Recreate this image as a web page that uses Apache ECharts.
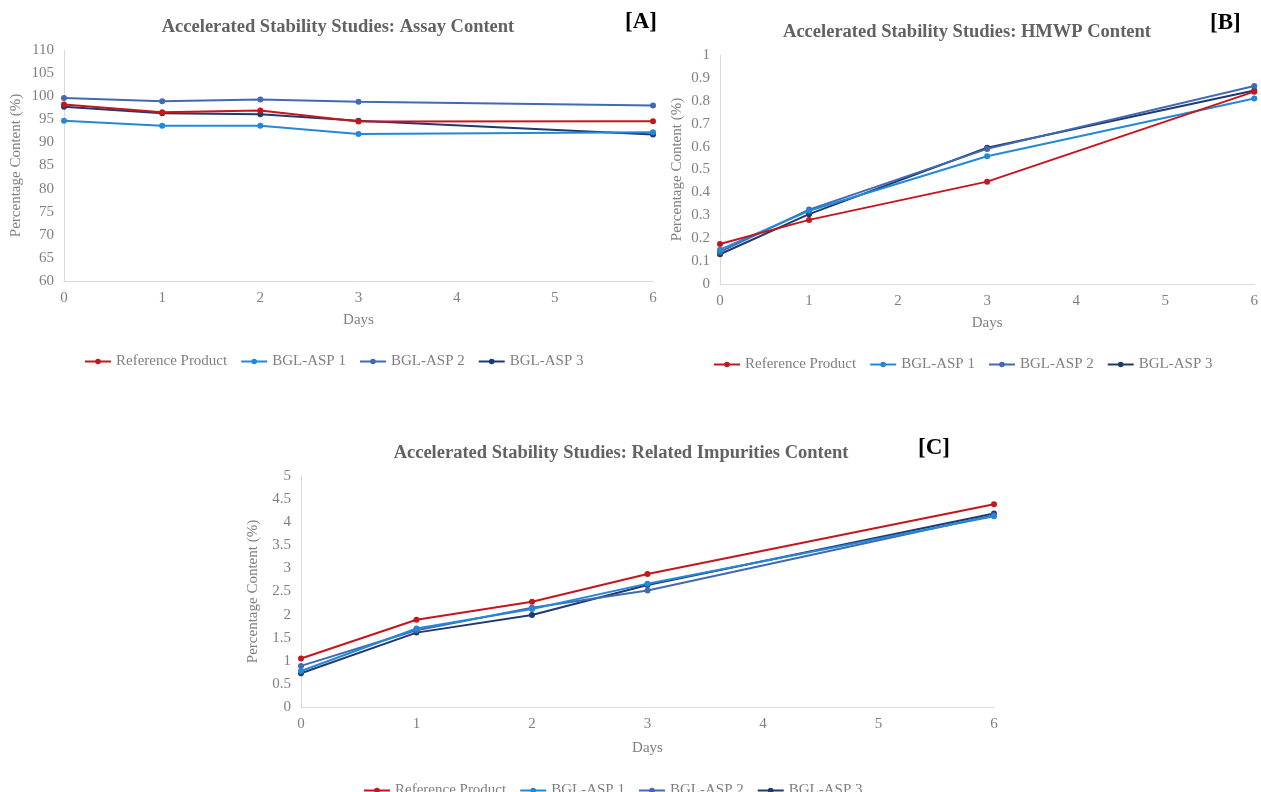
<!DOCTYPE html>
<html>
<head>
<meta charset="utf-8">
<script src="https://cdn.jsdelivr.net/npm/echarts@6/dist/echarts.min.js"></script>
<style>
  html, body { margin: 0; padding: 0; background: #fff; }
</style>
</head>
<body>
<div id="chart" style="width: 1261px; height: 792px"></div>
<script>
const SERIES_NAMES = ['Reference Product', 'BGL-ASP 1', 'BGL-ASP 2', 'BGL-ASP 3']
const COLORS = ['#C5161D', '#2388D8', '#4169B4', '#1F3A6E']

// [A] assay content (%)
const daysA = [0, 1, 2, 3, 6]
const assayRef  = [98.2, 96.5, 96.9, 94.5, 94.6]
const assayAsp1 = [94.7, 93.6, 93.6, 91.8, 92.2]
const assayAsp2 = [99.6, 98.9, 99.3, 98.8, 98.0]
const assayAsp3 = [97.7, 96.3, 96.1, 94.7, 91.7]

// [B] HMWP content (%)
const daysB = [0, 1, 3, 6]
const hmwpRef  = [0.175, 0.28, 0.447, 0.84]
const hmwpAsp1 = [0.15, 0.32, 0.558, 0.81]
const hmwpAsp2 = [0.14, 0.325, 0.59, 0.865]
const hmwpAsp3 = [0.13, 0.305, 0.595, 0.845]

// [C] related impurities content (%)
const daysC = [0, 1, 2, 3, 6]
const impRef  = [1.05, 1.89, 2.28, 2.88, 4.39]
const impAsp1 = [0.78, 1.70, 2.12, 2.67, 4.13]
const impAsp2 = [0.89, 1.66, 2.15, 2.52, 4.15]
const impAsp3 = [0.73, 1.61, 1.99, 2.64, 4.19]

const FONT = '"Liberation Serif", "DejaVu Serif", serif'
const labelColor = '#7f7f7f'

const panels = [
  { days: daysA, values: [assayRef, assayAsp1, assayAsp2, assayAsp3], min: 60, max: 110, interval: 5,
    grid: { left: 64, top: 50, width: 589, height: 231 }, nameGap: 40, xGap: 32 },
  { days: daysB, values: [hmwpRef, hmwpAsp1, hmwpAsp2, hmwpAsp3], min: 0, max: 1, interval: 0.1,
    grid: { left: 720, top: 55, width: 536, height: 229 }, nameGap: 35, xGap: 32 },
  { days: daysC, values: [impRef, impAsp1, impAsp2, impAsp3], min: 0, max: 5, interval: 0.5,
    grid: { left: 301, top: 476, width: 693, height: 231 }, nameGap: 40, xGap: 34 },
]

const chart = echarts.init(document.getElementById('chart'))

const axisLine = { show: true, lineStyle: { color: '#d9d9d9', width: 1 } }

const series = []
panels.forEach((p, gi) => {
  p.values.forEach((vals, si) => {
    series.push({
      name: SERIES_NAMES[si],
      type: 'line',
      xAxisIndex: gi,
      yAxisIndex: gi,
      data: p.days.map((d, i) => [d, vals[i]]),
      symbol: 'circle',
      symbolSize: 6,
      color: COLORS[si],
      lineStyle: { width: 2 },
      z: 10 - si,
    })
  })
})

const titleStyle = { fontFamily: FONT, fontSize: 18.5, fontWeight: 'bold', color: '#626262' }
const tagStyle = { fontFamily: FONT, fontSize: 23, fontWeight: 'bold', color: '#000' }

const legendBase = {
  itemWidth: 26, itemHeight: 7, itemGap: 13,
  textStyle: { fontFamily: FONT, fontSize: 15, color: labelColor },
  data: SERIES_NAMES,
}

chart.setOption({
  backgroundColor: '#fff',
  animation: false,
  title: [
    { text: 'Accelerated Stability Studies: Assay Content', left: 333, top: 13, textAlign: 'center', textStyle: titleStyle },
    { text: 'Accelerated Stability Studies: HMWP Content', left: 962, top: 18, textAlign: 'center', textStyle: titleStyle },
    { text: 'Accelerated Stability Studies: Related Impurities Content', left: 616, top: 439, textAlign: 'center', textStyle: titleStyle },
    { text: '[A]', left: 620, top: 6, textStyle: tagStyle },
    { text: '[B]', left: 1205, top: 7, textStyle: tagStyle },
    { text: '[C]', left: 913, top: 432, textStyle: tagStyle },
  ],
  legend: [
    { ...legendBase, left: 79, top: 349 },
    { ...legendBase, left: 708, top: 352 },
    { ...legendBase, left: 358, top: 778 },
  ],
  grid: panels.map(p => ({ ...p.grid, containLabel: false })),
  xAxis: panels.map((p, i) => ({
    type: 'value', gridIndex: i, min: 0, max: 6, interval: 1,
    name: 'Days', nameLocation: 'middle', nameGap: p.xGap,
    nameTextStyle: { fontFamily: FONT, fontSize: 15, color: labelColor },
    axisLine, axisTick: { show: false }, splitLine: { show: false },
    axisLabel: { fontFamily: FONT, fontSize: 15, color: labelColor, margin: 10 },
  })),
  yAxis: panels.map((p, i) => ({
    type: 'value', gridIndex: i, min: p.min, max: p.max, interval: p.interval,
    name: 'Percentage Content (%)', nameLocation: 'middle', nameGap: p.nameGap, nameRotate: 90,
    nameTextStyle: { fontFamily: FONT, fontSize: 15, color: labelColor },
    axisLine, axisTick: { show: false }, splitLine: { show: false },
    axisLabel: { fontFamily: FONT, fontSize: 15, color: labelColor, margin: 10,
      formatter: v => String(Math.round(v * 10) / 10) },
  })),
  series,
})

window.addEventListener('resize', () => chart.resize())
</script>
</body>
</html>
